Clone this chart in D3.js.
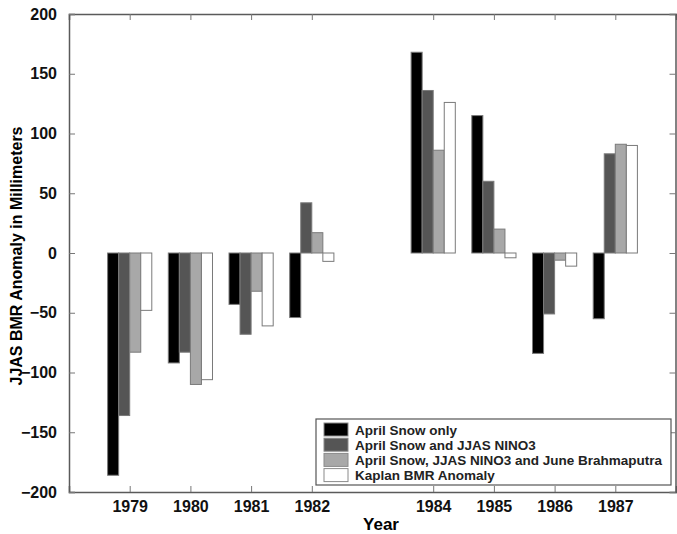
<!DOCTYPE html>
<html lang="en">
<head>
<meta charset="UTF-8">
<title>JJAS BMR Anomaly</title>
<script src="https://d3js.org/d3.v7.min.js"></script>
<style>
    body { margin: 0; background: #fff; }
    svg { display: block; font-family: "Liberation Sans", Arial, sans-serif; }
</style>
</head>
<body>
<div id="chart"></div>
<script>
    // values (mm)
    var years = [1979, 1980, 1981, 1982, 1984, 1985, 1986, 1987];
    var snowOnly = [-186, -92, -43, -54, 168, 115, -84, -55];
    var snowNino = [-136, -83, -68, 42, 136, 60, -51, 83];
    var snowNinoBrahm = [-83, -110, -32, 17, 86, 20, -6, 91];
    var kaplan = [-48, -106, -61, -7, 126, -4, -11, 90];

    var seriesNames = ["April Snow only", "April Snow and JJAS NINO3",
        "April Snow, JJAS NINO3 and June Brahmaputra", "Kaplan BMR Anomaly"];
    var seriesFill = ["#000000", "#555555", "#a8a8a8", "#ffffff"];
    var yTicks = [-200, -150, -100, -50, 0, 50, 100, 150, 200];

    var series = [snowOnly, snowNino, snowNinoBrahm, kaplan];

    var W = 677, H = 534;
    var m = { left: 69, right: 1, top: 14, bottom: 42 };

    var svg = d3.select("#chart").append("svg")
        .attr("width", W).attr("height", H);

    var x = d3.scaleLinear().domain([1978, 1988]).range([m.left, W - m.right]);
    var y = d3.scaleLinear().domain([-200, 200]).range([H - m.bottom, m.top]);

    var barW = (x(1979) - x(1978)) * 0.182;

    // bars
    series.forEach(function (vals, s) {
        svg.append("g").selectAll("rect")
            .data(vals)
            .enter()
            .append("rect")
            .attr("x", function (d, i) { return x(years[i]) + (s - 2) * barW; })
            .attr("width", barW)
            .attr("y", function (d) { return y(Math.max(0, d)); })
            .attr("height", function (d) { return Math.abs(y(d) - y(0)); })
            .attr("fill", seriesFill[s])
            .attr("stroke", "#7a7a7a")
            .attr("stroke-width", 1);
    });

    // axes (ticks pointing inward, matlab style)
    var fmt = function (d) { return d < 0 ? "\u2212" + Math.abs(d) : d; };
    var gx = svg.append("g")
        .attr("transform", "translate(0," + (H - m.bottom) + ")")
        .call(d3.axisBottom(x).tickValues(years).tickSize(-6).tickPadding(9).tickFormat(d3.format("d")));
    var gxTop = svg.append("g")
        .attr("transform", "translate(0," + m.top + ")")
        .call(d3.axisTop(x).tickValues(years).tickSize(-6).tickFormat(""));
    var gy = svg.append("g")
        .attr("transform", "translate(" + m.left + ",0)")
        .call(d3.axisLeft(y).tickValues(yTicks).tickSize(-6).tickPadding(12).tickFormat(fmt));
    var gyRight = svg.append("g")
        .attr("transform", "translate(" + (W - m.right - 0.5) + ",0)")
        .call(d3.axisRight(y).tickValues(yTicks).tickSize(-6).tickFormat(""));

    [gx, gxTop, gy, gyRight].forEach(function (g) {
        g.select(".domain").attr("stroke", "#5a5a5a").attr("stroke-width", 1.5);
        g.selectAll(".tick line").attr("stroke", "#777");
        g.selectAll("text")
            .attr("font-size", 16)
            .attr("font-weight", "bold")
            .attr("fill", "#111")
            .attr("font-family", "Liberation Sans, Arial, sans-serif");
    });

    // axis titles
    svg.append("text")
        .attr("x", 381).attr("y", 530)
        .attr("text-anchor", "middle")
        .attr("font-size", 17).attr("font-weight", "bold")
        .text("Year");

    svg.append("text")
        .attr("transform", "translate(22,256) rotate(-90)")
        .attr("text-anchor", "middle")
        .attr("font-size", 16).attr("font-weight", "bold")
        .text("JJAS BMR Anomaly in Millimeters");

    // legend
    var lg = svg.append("g").attr("transform", "translate(316,419)");
    lg.append("rect")
        .attr("width", 355).attr("height", 66)
        .attr("fill", "#fff").attr("stroke", "#555").attr("stroke-width", 1.2);
    seriesNames.forEach(function (name, i) {
        var row = lg.append("g").attr("transform", "translate(0," + (4 + i * 15.2) + ")");
        row.append("rect")
            .attr("x", 8).attr("y", 0)
            .attr("width", 24).attr("height", 13)
            .attr("fill", seriesFill[i]).attr("stroke", "#8a8a8a");
        row.append("text")
            .attr("x", 39).attr("y", 11.5)
            .attr("font-size", 13.5).attr("font-weight", "bold")
            .attr("fill", "#222")
            .text(name);
    });
</script>
</body>
</html>
